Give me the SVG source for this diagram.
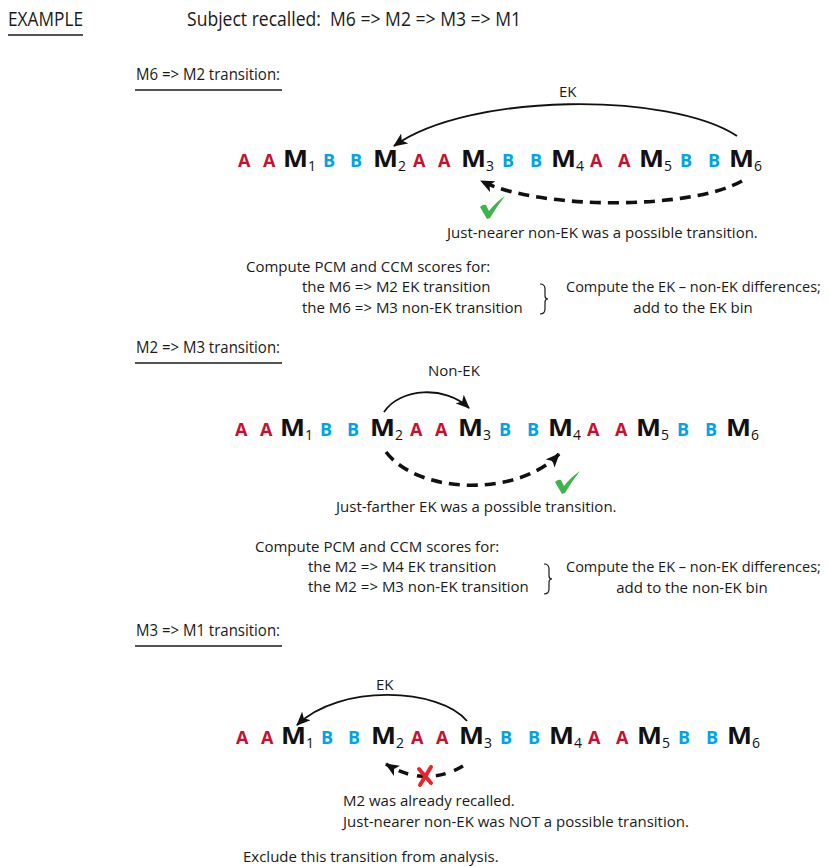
<svg xmlns="http://www.w3.org/2000/svg" width="828" height="867" viewBox="0 0 828 867">
<style>
text{font-family:"Open Sans","Liberation Sans",sans-serif;fill:#1a1a1a}
.t{font-size:15px}
.tc{font-size:14.5px}
.h{font-size:17px}
.big{font-size:20px}
.a{font-size:18px;font-weight:bold;fill:#c8102e}
.b{font-size:18px;font-weight:bold;fill:#00a3e3}
.m{font-size:22.5px;font-weight:bold;fill:#111}
.s{font-size:14px;fill:#111}
.ul{stroke:#1a1a1a;stroke-width:1.6}
.arc{fill:none;stroke:#111;stroke-width:1.8}
.dash{fill:none;stroke:#111;stroke-width:3.6;stroke-dasharray:11 7}
.brace{fill:none;stroke:#1a1a1a;stroke-width:1.2}
.chk{fill:#3db54a}
</style>
<defs>
<marker id="ah" viewBox="0 0 14 12" refX="13" refY="6" markerWidth="14" markerHeight="12" markerUnits="userSpaceOnUse" orient="auto">
<path d="M0,0 L14,6 L0,12 L3.5,6 z" fill="#111"/>
</marker>
<path id="check" d="M0,10 Q3,7 6,8 L9,14 Q16,5 25,-1 Q17,9 10,21 L7,22 Z"/>
</defs>

<g id="title">
<text class="big" x="8" y="26" textLength="75" lengthAdjust="spacingAndGlyphs">EXAMPLE</text>
<line class="ul" x1="8" y1="35" x2="83" y2="35"/>
<text class="big" x="187" y="26" textLength="334" lengthAdjust="spacingAndGlyphs">Subject recalled:&#160; M6 =&gt; M2 =&gt; M3 =&gt; M1</text>
</g>

<!-- Section 1 -->
<g id="sec1-header">
<text class="h" x="136" y="80" textLength="144" lengthAdjust="spacingAndGlyphs">M6 =&gt; M2 transition:</text>
<line class="ul" x1="135" y1="90" x2="282" y2="90"/>
</g>
<g id="row1">
<text class="a" x="238" y="167">A</text>
<text class="a" x="263" y="167">A</text>
<g id="r1-M1"><text class="m" x="283" y="167" textLength="25" lengthAdjust="spacingAndGlyphs">M</text><text class="s" x="308" y="171">1</text></g>
<text class="b" x="323" y="167">B</text>
<text class="b" x="350" y="167">B</text>
<g id="r1-M2"><text class="m" x="373" y="167" textLength="25" lengthAdjust="spacingAndGlyphs">M</text><text class="s" x="398" y="171">2</text></g>
<text class="a" x="413" y="167">A</text>
<text class="a" x="438" y="167">A</text>
<g id="r1-M3"><text class="m" x="461" y="167" textLength="25" lengthAdjust="spacingAndGlyphs">M</text><text class="s" x="486" y="171">3</text></g>
<text class="b" x="502" y="167">B</text>
<text class="b" x="530" y="167">B</text>
<g id="r1-M4"><text class="m" x="551" y="167" textLength="25" lengthAdjust="spacingAndGlyphs">M</text><text class="s" x="576" y="171">4</text></g>
<text class="a" x="590" y="167">A</text>
<text class="a" x="618" y="167">A</text>
<g id="r1-M5"><text class="m" x="639" y="167" textLength="25" lengthAdjust="spacingAndGlyphs">M</text><text class="s" x="664" y="171">5</text></g>
<text class="b" x="680" y="167">B</text>
<text class="b" x="708" y="167">B</text>
<g id="r1-M6"><text class="m" x="729" y="167" textLength="25" lengthAdjust="spacingAndGlyphs">M</text><text class="s" x="754" y="171">6</text></g>
</g>
<g id="sec1-connectors">
<path class="arc" d="M737,136 C670,92 470,92 394,146" marker-end="url(#ah)"/>
<path class="dash" d="M742,181 C690,210 540,210 481,181" marker-end="url(#ah)"/>
</g>
<text class="t" x="559" y="97">EK</text>
<use href="#check" class="chk" x="480" y="197"/>
<text class="t" x="447" y="238">Just-nearer non-EK was a possible transition.</text>
<g id="sec1-compute">
<text class="t" x="246" y="272">Compute PCM and CCM scores for:</text>
<text class="t" x="302" y="292">the M6 =&gt; M2 EK transition</text>
<text class="t" x="302" y="313">the M6 =&gt; M3 non-EK transition</text>
<path class="brace" d="M540,284 Q545,284 545,289 L545,296 Q545,299 548,299 Q545,299 545,302 L545,309 Q545,314 540,314"/>
<text class="tc" x="566" y="292">Compute the EK – non-EK differences;</text>
<text class="t" x="693" y="313" text-anchor="middle">add to the EK bin</text>
</g>

<!-- Section 2 -->
<g id="sec2-header">
<text class="h" x="136" y="353" textLength="144" lengthAdjust="spacingAndGlyphs">M2 =&gt; M3 transition:</text>
<line class="ul" x1="135" y1="363" x2="282" y2="363"/>
</g>
<g id="row2">
<text class="a" x="235" y="436">A</text>
<text class="a" x="260" y="436">A</text>
<g id="r2-M1"><text class="m" x="280" y="436" textLength="25" lengthAdjust="spacingAndGlyphs">M</text><text class="s" x="305" y="440">1</text></g>
<text class="b" x="320" y="436">B</text>
<text class="b" x="347" y="436">B</text>
<g id="r2-M2"><text class="m" x="370" y="436" textLength="25" lengthAdjust="spacingAndGlyphs">M</text><text class="s" x="395" y="440">2</text></g>
<text class="a" x="410" y="436">A</text>
<text class="a" x="435" y="436">A</text>
<g id="r2-M3"><text class="m" x="458" y="436" textLength="25" lengthAdjust="spacingAndGlyphs">M</text><text class="s" x="483" y="440">3</text></g>
<text class="b" x="499" y="436">B</text>
<text class="b" x="527" y="436">B</text>
<g id="r2-M4"><text class="m" x="548" y="436" textLength="25" lengthAdjust="spacingAndGlyphs">M</text><text class="s" x="573" y="440">4</text></g>
<text class="a" x="587" y="436">A</text>
<text class="a" x="615" y="436">A</text>
<g id="r2-M5"><text class="m" x="636" y="436" textLength="25" lengthAdjust="spacingAndGlyphs">M</text><text class="s" x="661" y="440">5</text></g>
<text class="b" x="677" y="436">B</text>
<text class="b" x="705" y="436">B</text>
<g id="r2-M6"><text class="m" x="726" y="436" textLength="25" lengthAdjust="spacingAndGlyphs">M</text><text class="s" x="751" y="440">6</text></g>
</g>
<g id="sec2-connectors">
<path class="arc" d="M384,412 C400,388 445,385 469,408" marker-end="url(#ah)"/>
<path class="dash" d="M386,452 C420,496 520,496 559,454" marker-end="url(#ah)"/>
</g>
<text class="t" x="428" y="376">Non-EK</text>
<use href="#check" class="chk" x="555" y="472"/>
<text class="t" x="336" y="512">Just-farther EK was a possible transition.</text>
<g id="sec2-compute">
<text class="t" x="255" y="552">Compute PCM and CCM scores for:</text>
<text class="t" x="308" y="572">the M2 =&gt; M4 EK transition</text>
<text class="t" x="308" y="592">the M2 =&gt; M3 non-EK transition</text>
<path class="brace" d="M544,564 Q549,564 549,569 L549,576 Q549,579 552,579 Q549,579 549,582 L549,589 Q549,594 544,594"/>
<text class="tc" x="566" y="572">Compute the EK – non-EK differences;</text>
<text class="t" x="692" y="593" text-anchor="middle">add to the non-EK bin</text>
</g>

<!-- Section 3 -->
<g id="sec3-header">
<text class="h" x="136" y="636" textLength="144" lengthAdjust="spacingAndGlyphs">M3 =&gt; M1 transition:</text>
<line class="ul" x1="135" y1="646" x2="282" y2="646"/>
</g>
<g id="row3">
<text class="a" x="236" y="744">A</text>
<text class="a" x="261" y="744">A</text>
<g id="r3-M1"><text class="m" x="281" y="744" textLength="25" lengthAdjust="spacingAndGlyphs">M</text><text class="s" x="306" y="748">1</text></g>
<text class="b" x="321" y="744">B</text>
<text class="b" x="348" y="744">B</text>
<g id="r3-M2"><text class="m" x="371" y="744" textLength="25" lengthAdjust="spacingAndGlyphs">M</text><text class="s" x="396" y="748">2</text></g>
<text class="a" x="411" y="744">A</text>
<text class="a" x="436" y="744">A</text>
<g id="r3-M3"><text class="m" x="459" y="744" textLength="25" lengthAdjust="spacingAndGlyphs">M</text><text class="s" x="484" y="748">3</text></g>
<text class="b" x="500" y="744">B</text>
<text class="b" x="528" y="744">B</text>
<g id="r3-M4"><text class="m" x="549" y="744" textLength="25" lengthAdjust="spacingAndGlyphs">M</text><text class="s" x="574" y="748">4</text></g>
<text class="a" x="588" y="744">A</text>
<text class="a" x="616" y="744">A</text>
<g id="r3-M5"><text class="m" x="637" y="744" textLength="25" lengthAdjust="spacingAndGlyphs">M</text><text class="s" x="662" y="748">5</text></g>
<text class="b" x="678" y="744">B</text>
<text class="b" x="706" y="744">B</text>
<g id="r3-M6"><text class="m" x="727" y="744" textLength="25" lengthAdjust="spacingAndGlyphs">M</text><text class="s" x="752" y="748">6</text></g>
</g>
<g id="sec3-connectors">
<path class="arc" d="M467,721 C440,688 340,683 297,725" marker-end="url(#ah)"/>
<path class="dash" d="M463,766 Q425,788 386,764" style="stroke-dasharray:10 9" marker-end="url(#ah)"/>
</g>
<text class="t" x="376" y="690">EK</text>
<g id="cross" stroke="#e8252a" stroke-width="4" stroke-linecap="round">
<line x1="419" y1="769" x2="431" y2="783"/>
<line x1="431" y1="767" x2="420" y2="785"/>
</g>
<text class="t" x="343" y="806">M2 was already recalled.</text>
<text class="t" x="343" y="827">Just-nearer non-EK was NOT a possible transition.</text>
<text class="t" x="243" y="862">Exclude this transition from analysis.</text>
</svg>
